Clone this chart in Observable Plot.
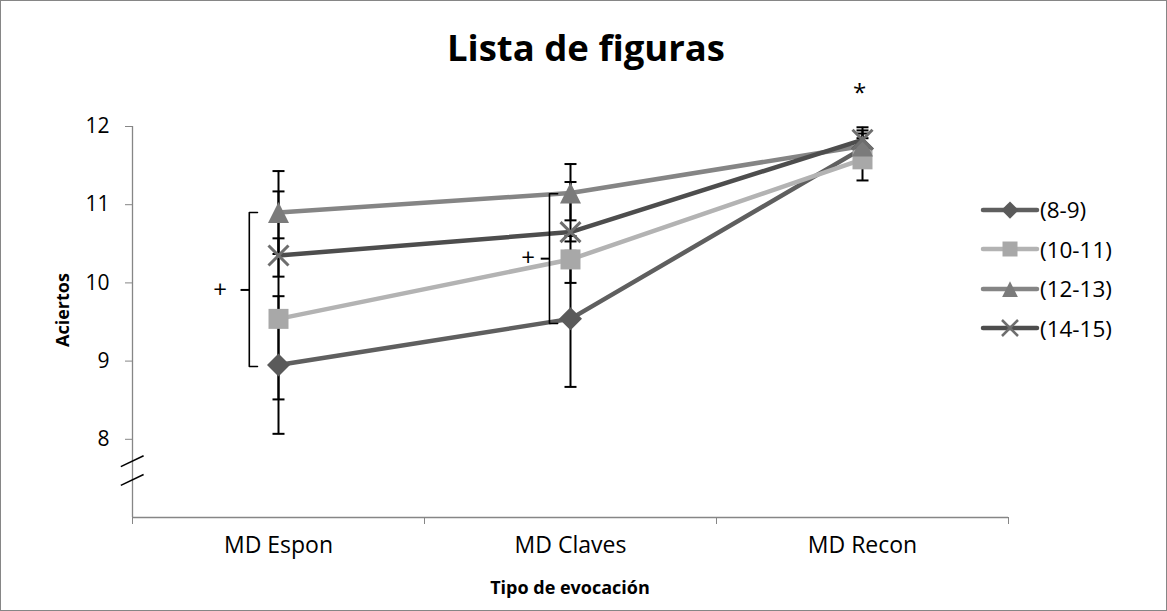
<!DOCTYPE html>
<html><head><meta charset="utf-8">
<script src="https://cdn.jsdelivr.net/npm/d3@7"></script>
<script src="https://cdn.jsdelivr.net/npm/@observablehq/plot@0.6"></script>
<style>
body{margin:0;background:#fff;}
#wrap{position:relative;width:1167px;height:611px;overflow:hidden;font-family:"Open Sans",Lato,sans-serif;color:#000;}
#wrap svg{position:absolute;left:0;top:0;}
#frame{position:absolute;left:0;top:0;width:1165px;height:609px;border:1px solid #868686;pointer-events:none;}
.ttl{position:absolute;font-weight:bold;white-space:nowrap;}
#legend{position:absolute;left:980px;top:190px;font-size:22.5px;}
#legend .row{display:flex;align-items:center;height:39.5px;}
#legend svg{position:static;}
</style></head><body><div id="wrap"></div>
<script>
// ---- data ----
const categories = ["MD Espon", "MD Claves", "MD Recon"];
const groups = ["(8-9)", "(10-11)", "(12-13)", "(14-15)"];
const mean89   = [8.95, 9.54, 11.72];
const mean1011 = [9.54, 10.30, 11.58];
const mean1213 = [10.90, 11.15, 11.75];
const mean1415 = [10.35, 10.65, 11.83];
const low89   = [8.07, 8.67, 11.47];
const high89  = [9.83, 10.41, 11.95];
const low1011  = [8.51, 10.00, 11.31];
const high1011 = [10.57, 10.60, 11.85];
const low1213  = [10.37, 10.80, 11.57];
const high1213 = [11.43, 11.52, 11.91];
const low1415  = [10.08, 10.53, 11.67];
const high1415 = [11.17, 11.29, 11.99];
const yTicks = [8, 9, 10, 11, 12];
const yDomain = [7, 12];
// annotations (data units)
const bracketX = [-0.10, 0.928];
const bracketTop = [10.90, 11.14];
const bracketBottom = [8.93, 9.48];
const bracketMid = [9.91, 10.31];
const plusX = [-0.20, 0.855];
const starX = [1.99];
const starY = [12.42];
const breakY = [[7.65, 7.79], [7.41, 7.55]];

// ---- styles ----
const lineColors = ["#5f5f5f", "#b3b3b3", "#858585", "#4d4d4d"];
const markColors = ["#5a5a5a", "#a8a8a8", "#7b7b7b", "#6e6e6e"];

const rad = s => Math.sqrt(s / Math.PI);
const diamondSym = {draw(c, s){const r = rad(s); c.moveTo(0,-r); c.lineTo(r,0); c.lineTo(0,r); c.lineTo(-r,0); c.closePath();}};
const squareSym = {draw(c, s){const r = rad(s); c.rect(-r,-r,2*r,2*r);}};
const triSym = {draw(c, s){const r = rad(s); c.moveTo(0,-r); c.lineTo(r,r); c.lineTo(-r,r); c.closePath();}};
const timesSym = {draw(c, s){const r = rad(s); c.moveTo(-r,-r); c.lineTo(r,r); c.moveTo(r,-r); c.lineTo(-r,r);}};
const capSym = {draw(c, s){const r = rad(s); c.moveTo(-r,0); c.lineTo(r,0);}};
const symbols = [diamondSym, squareSym, triSym, timesSym];
const symR = [11.5, 10, 10.5, 10];

const series = [
  {mean: mean89, low: low89, high: high89},
  {mean: mean1011, low: low1011, high: high1011},
  {mean: mean1213, low: low1213, high: high1213},
  {mean: mean1415, low: low1415, high: high1415}
];
const rows = series.flatMap((s, si) => categories.map((c, i) => ({
  si, group: groups[si], xi: i, mean: s.mean[i], low: s.low[i], high: s.high[i]
})));
const caps = rows.flatMap(d => [{xi: d.xi, y: d.low}, {xi: d.xi, y: d.high}]);

const bracketPts = bracketX.flatMap((x, i) => [
  {b: i, x: x + 0.028, y: bracketTop[i]}, {b: i, x, y: bracketTop[i]},
  {b: i, x, y: bracketBottom[i]}, {b: i, x: x + 0.028, y: bracketBottom[i]}
]);
const midTicks = bracketX.map((x, i) => ({x1: x - 0.03, x2: x, y: bracketMid[i]}));
const plusData = plusX.map((x, i) => ({x, y: bracketMid[i]}));
const breaks = breakY.map(([a, b]) => ({x1: -0.54, x2: -0.462, y1: a, y2: b}));

const bounds = [-0.5, 0.5, 1.5, 2.5];

const markerMarks = symbols.map((sym, i) => i === 3
  ? Plot.dot(rows.filter(d => d.si === i), {x: "xi", y: "mean", symbol: sym, r: symR[i], stroke: markColors[i], strokeWidth: 3, fill: "none"})
  : Plot.dot(rows.filter(d => d.si === i), {x: "xi", y: "mean", symbol: sym, r: symR[i], fill: markColors[i], stroke: "none"}));

const chart = Plot.plot({
  width: 1167, height: 611,
  marginLeft: 132, marginRight: 159, marginTop: 126, marginBottom: 94,
  x: {type: "linear", domain: [-0.5, 2.5]},
  y: {domain: yDomain},
  color: {type: "identity"},
  style: {fontFamily: "'Open Sans', Lato, sans-serif", background: "transparent", overflow: "visible"},
  marks: [
    Plot.ruleX([-0.5], {y1: yDomain[0], y2: yDomain[1], stroke: "#868686", strokeWidth: 1.3}),
    Plot.ruleY([yDomain[0]], {x1: -0.5, x2: 2.5, stroke: "#868686", strokeWidth: 1.3}),
    Plot.axisY({ticks: yTicks, tickSize: 7, stroke: "#868686", fill: "#000", fontSize: 21, tickPadding: 16, tickFormat: d3.format("d"), label: null}),
    Plot.axisX({ticks: bounds, tickSize: 7, stroke: "#868686", tickFormat: () => "", label: null}),
    Plot.axisX({ticks: [0, 1, 2], tickSize: 0, tickFormat: i => categories[i], fontSize: 23, tickPadding: 19, fill: "#000", label: null}),
    Plot.link(breaks, {x1: "x1", x2: "x2", y1: "y1", y2: "y2", stroke: "#000", strokeWidth: 1.5}),
    Plot.ruleX(rows, {x: "xi", y1: "low", y2: "high", stroke: "#000", strokeWidth: 2}),
    Plot.dot(caps, {x: "xi", y: "y", symbol: capSym, r: 6, stroke: "#000", strokeWidth: 2, fill: "none"}),
    Plot.line(rows, {x: "xi", y: "mean", z: "group", stroke: d => lineColors[d.si], strokeWidth: 4.5}),
    ...markerMarks,
    Plot.line(bracketPts, {x: "x", y: "y", z: "b", stroke: "#000", strokeWidth: 1.6}),
    Plot.link(midTicks, {x1: "x1", x2: "x2", y1: "y", y2: "y", stroke: "#000", strokeWidth: 2}),
    Plot.text(plusData, {x: "x", y: "y", text: () => "+", fontSize: 24, fill: "#000"}),
    Plot.text(starX.map((x, i) => ({x, y: starY[i]})), {x: "x", y: "y", text: () => "*", fontSize: 24, fill: "#000"})
  ]
});

const wrap = document.getElementById("wrap");
wrap.appendChild(chart);

function addText(txt, css) {
  const d = document.createElement("div");
  d.className = "ttl"; d.textContent = txt;
  Object.assign(d.style, css);
  wrap.appendChild(d);
  return d;
}
addText("Lista de figuras", {left: "0", width: "1172px", textAlign: "center", top: "22px", fontSize: "36.5px"});
addText("Tipo de evocación", {left: "132px", width: "876px", textAlign: "center", top: "575px", fontSize: "18px"});
addText("Aciertos", {left: "62px", top: "310px", fontSize: "18px", transform: "translate(-50%,-50%) rotate(-90deg)"});

// legend
const leg = document.createElement("div");
leg.id = "legend";
groups.forEach((g, i) => {
  const row = document.createElement("div");
  row.className = "row";
  const svg = d3.create("svg").attr("width", 60).attr("height", 24);
  svg.append("line").attr("x1", 3).attr("x2", 57).attr("y1", 12).attr("y2", 12)
    .attr("stroke", lineColors[i]).attr("stroke-width", 4.5).attr("stroke-linecap", "round");
  const r = i === 3 ? 8 : symR[i] * 0.75;
  svg.append("path").attr("transform", "translate(30,12)")
    .attr("d", d3.symbol(symbols[i], Math.PI * r * r)())
    .attr("fill", i === 3 ? "none" : markColors[i])
    .attr("stroke", i === 3 ? markColors[i] : "none").attr("stroke-width", 2.5);
  row.appendChild(svg.node());
  const sp = document.createElement("span");
  sp.textContent = g;
  row.appendChild(sp);
  leg.appendChild(row);
});
wrap.appendChild(leg);

const fr = document.createElement("div");
fr.id = "frame";
wrap.appendChild(fr);
</script>
</body></html>
